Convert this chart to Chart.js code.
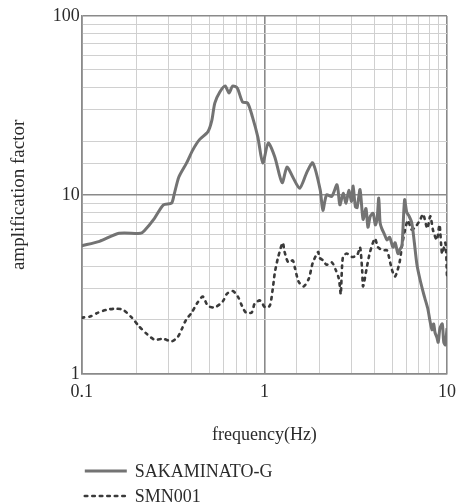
<!DOCTYPE html>
<html>
<head>
<meta charset="utf-8">
<script src="https://cdn.jsdelivr.net/npm/chart.js@4.4.1/dist/chart.umd.min.js"></script>
<style>
  html, body { margin: 0; padding: 0; background: #ffffff; overflow: hidden; }
  #wrap { width: 465px; height: 504px; }
</style>
</head>
<body>
<div id="wrap"><canvas id="ampChart" width="465" height="504"></canvas></div>
<script>
// SAKAMINATO-G (solid)
const freqSak = [0.1, 0.125, 0.16, 0.21, 0.22, 0.25, 0.28, 0.31, 0.32, 0.34, 0.375, 0.405, 0.44, 0.49, 0.515,
  0.535, 0.57, 0.61, 0.64, 0.67, 0.71, 0.76, 0.81, 0.86, 0.92, 0.98, 1.05, 1.14, 1.25, 1.33, 1.43, 1.56,
  1.71, 1.84, 2.02, 2.09, 2.19, 2.34, 2.5, 2.59, 2.7, 2.8, 2.9, 3.0, 3.06, 3.15, 3.22, 3.34, 3.47, 3.6,
  3.69, 3.8, 3.94, 4.05, 4.14, 4.23, 4.3, 4.39, 4.55, 4.69, 4.85, 5.06, 5.2, 5.39, 5.55, 5.67, 5.86, 6.02,
  6.2, 6.41, 6.6, 6.84, 7.1, 7.38, 7.6, 7.86, 8.05, 8.28, 8.45, 8.6, 8.8, 8.95, 9.15, 9.42, 9.6, 9.79, 10];
const ampSak = [5.2, 5.5, 6.1, 6.1, 6.3, 7.4, 8.8, 9.0, 10, 12.6, 15.1, 17.8, 20.3, 22.5, 26,
  32.6, 37.6, 40.6, 37.1, 40.6, 39.6, 33, 32.6, 27.3, 21.1, 15.1, 19.5, 16.3, 11.7, 14.3, 12.6, 10.9,
  13.4, 15.1, 10.7, 8.2, 10, 9.8, 11.4, 8.8, 10.2, 9.0, 10.6, 9.2, 11.2, 8.6, 8.5, 10.7, 7.3, 8.4,
  6.6, 7.6, 7.9, 6.8, 7.3, 9.6, 7.0, 6.5, 6.0, 5.6, 5.8, 5.1, 5.4, 4.7, 5.0, 5.2, 9.4, 8.0,
  7.6, 7.0, 5.6, 4.1, 3.4, 2.9, 2.6, 2.3, 2.0, 1.76, 1.9, 1.7, 1.6, 1.5, 1.8, 1.9, 1.5, 1.45, 1.8];

// SMN001 (dotted)
const freqSmn = [0.1, 0.111, 0.122, 0.137, 0.152, 0.168, 0.188, 0.205, 0.227, 0.251, 0.278, 0.311, 0.336,
  0.353, 0.372, 0.4, 0.427, 0.46, 0.49, 0.535, 0.592, 0.623, 0.671, 0.716, 0.753, 0.792, 0.852, 0.885,
  0.945, 1.01, 1.07, 1.11, 1.14, 1.19, 1.26, 1.29, 1.35, 1.43, 1.47, 1.54, 1.64, 1.75, 1.84, 1.97, 2.0,
  2.1, 2.19, 2.34, 2.46, 2.55, 2.59, 2.62, 2.69, 2.82, 3.02, 3.22, 3.34, 3.43, 3.47, 3.65, 3.79, 4.03,
  4.19, 4.45, 4.69, 5.0, 5.2, 5.5, 5.7, 6.1, 6.4, 6.7, 7.1, 7.4, 7.8, 8.1, 8.4, 8.8, 9.1, 9.4, 9.8, 10];
const ampSmn = [2.06, 2.09, 2.19, 2.28, 2.31, 2.28, 2.06, 1.85, 1.67, 1.55, 1.57, 1.52, 1.61,
  1.78, 2.0, 2.2, 2.47, 2.7, 2.4, 2.35, 2.54, 2.8, 2.9, 2.7, 2.4, 2.2, 2.2, 2.47,
  2.57, 2.35, 2.4, 2.96, 3.66, 4.5, 5.4, 4.8, 4.2, 4.3, 3.9, 3.27, 3.08, 3.4, 4.17, 4.8, 4.46,
  4.3, 4.07, 4.2, 3.8, 3.44, 3.08, 2.78, 4.5, 4.7, 4.5, 4.6, 5.1, 3.8, 3.08, 4.0, 4.8, 5.7,
  5.1, 4.9, 4.9, 3.8, 3.5, 4.2, 5.4, 7.2, 6.4, 6.6, 7.2, 7.8, 6.5, 7.6, 6.3, 5.6, 6.8, 4.7, 5.4, 3.5];

// tick labels shown on the axes
const xTickLabels = [0.1, 1, 10];
const yTickLabels = [1, 10, 100];

const seriesNames = ["SAKAMINATO-G", "SMN001"];

function toPoints(xs, ys) {
  return xs.map((x, i) => ({ x: x, y: ys[i] }));
}

function isDecade(v) {
  const l = Math.log10(v);
  return Math.abs(l - Math.round(l)) < 1e-6;
}

function tickLabel(list) {
  return (value) => {
    const hit = list.find((t) => Math.abs(t - value) < 1e-9 * Math.max(1, t));
    return hit !== undefined ? String(hit) : "";
  };
}

function gridColor(ctx) {
  return ctx.tick && isDecade(ctx.tick.value) ? "#8a8a8a" : "#d0d0d0";
}
function gridWidth(ctx) {
  return ctx.tick && isDecade(ctx.tick.value) ? 1.6 : 1;
}

const FONT = "'Liberation Serif', 'DejaVu Serif', serif";

// legend stacked at the bottom left, like the original figure
const stackedLegend = {
  id: "stackedLegend",
  afterDraw(chart) {
    const ctx = chart.ctx;
    const x0 = chart.chartArea.left + 3;
    ctx.save();
    ctx.font = "18px " + FONT;
    ctx.textBaseline = "middle";
    ctx.fillStyle = "#2b2b2b";
    chart.data.datasets.forEach((ds, i) => {
      const y = 471 + i * 25;
      ctx.strokeStyle = ds.borderColor;
      ctx.lineWidth = ds.borderWidth;
      ctx.lineCap = ds.borderCapStyle || "butt";
      ctx.setLineDash(ds.borderDash || []);
      ctx.beginPath();
      ctx.moveTo(x0, y);
      ctx.lineTo(x0 + 42, y);
      ctx.stroke();
      ctx.fillText(ds.label, x0 + 50, y + 1);
    });
    ctx.restore();
  },
};

const ctx = document.getElementById("ampChart").getContext("2d");
new Chart(ctx, {
  type: "line",
  data: {
    datasets: [
      {
        label: seriesNames[0],
        data: toPoints(freqSak, ampSak),
        borderColor: "#737373",
        borderWidth: 3,
        tension: 0.25,
        pointRadius: 0,
        fill: false,
      },
      {
        label: seriesNames[1],
        data: toPoints(freqSmn, ampSmn),
        borderColor: "#3a3a3a",
        borderWidth: 2.6,
        borderDash: [2.5, 5],
        borderCapStyle: "round",
        tension: 0.25,
        pointRadius: 0,
        fill: false,
      },
    ],
  },
  options: {
    responsive: false,
    animation: false,
    layout: { padding: { top: 16, right: 18, bottom: 58, left: 6 } },
    plugins: {
      legend: { display: false },
      tooltip: { enabled: false },
    },
    scales: {
      x: {
        type: "logarithmic",
        min: 0.1,
        max: 10,
        grid: { color: gridColor, lineWidth: gridWidth, drawTicks: false },
        border: { color: "#8a8a8a", width: 1.6 },
        ticks: {
          autoSkip: false,
          maxRotation: 0,
          padding: 8,
          color: "#2b2b2b",
          font: { family: FONT, size: 18 },
          callback: tickLabel(xTickLabels),
        },
        title: {
          display: true,
          text: "frequency(Hz)",
          color: "#2b2b2b",
          font: { family: FONT, size: 18 },
          padding: { top: 13, bottom: 0 },
        },
      },
      y: {
        type: "logarithmic",
        min: 1,
        max: 100,
        grid: { color: gridColor, lineWidth: gridWidth, drawTicks: false },
        border: { color: "#8a8a8a", width: 1.6 },
        ticks: {
          autoSkip: false,
          padding: 2,
          color: "#2b2b2b",
          font: { family: FONT, size: 18 },
          callback: tickLabel(yTickLabels),
        },
        title: {
          display: true,
          text: "amplification factor",
          color: "#2b2b2b",
          font: { family: FONT, size: 19 },
          padding: { top: 2, bottom: 20 },
        },
      },
    },
  },
  plugins: [stackedLegend],
});
</script>
</body>
</html>
